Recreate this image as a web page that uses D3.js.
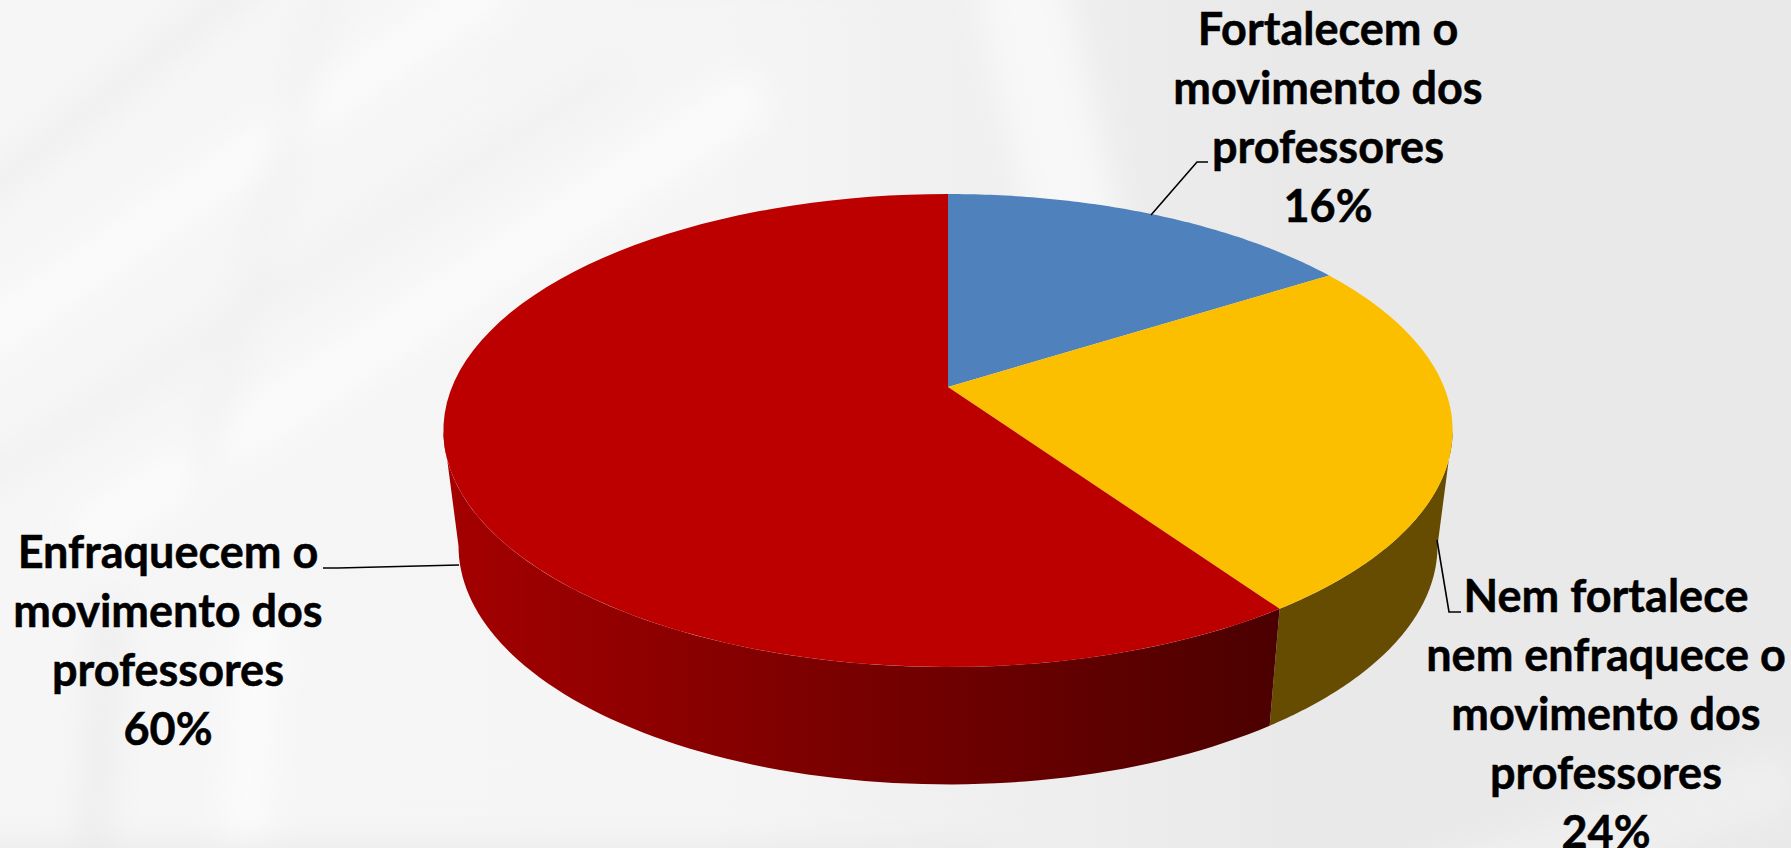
<!DOCTYPE html>
<html>
<head>
<meta charset="utf-8">
<script src="https://cdn.jsdelivr.net/npm/d3@7"></script>
<style>
  html, body { margin: 0; padding: 0; background: #f2f2f2; overflow: hidden; }
  text { font-family: Lato, "Open Sans", sans-serif; font-weight: 700; fill: #000; stroke: #000; stroke-width: 0.5px; }
</style>
</head>
<body>
<svg id="chart" width="1791" height="848"></svg>
<script>
// values, in clockwise order from 12 o'clock
const categories = [
    ["Fortalecem o", "movimento dos", "professores"],
    ["Nem fortalece", "nem enfraquece o", "movimento dos", "professores"],
    ["Enfraquecem o", "movimento dos", "professores"]
];
const shares = [16, 24.4, 59.6];
const percentLabels = ["16%", "24%", "60%"];
const topColors = ["#4f81bd", "#fcbf00", "#bc0000"];
const sideColors = ["#2f4d71", "#654c00", "url(#redSide)"];

const width = 1791, height = 848;
const svg = d3.select("#chart");
const defs = svg.append("defs");

// perspective of the tilted disc
const cx = 948, cy = 387;
const a = 496, b = 228.5, persp = 0.184;
const midY = 430.5, depth = 115.5, shrinkX = 0.97, stretchY = 1.008;

// the side wall is only seen between the two widest points of the disc
const sideFrom = Math.PI - Math.asin(Math.sqrt(1 - persp * persp));
const sideTo = 2 * Math.PI - sideFrom;

function project(angle, bottom) {
    const u = Math.sin(angle), v = Math.cos(angle);
    const d = 1 + persp * v;
    const x = cx + a * u / d;
    const y = cy - b * v / d;
    if (!bottom) return [x, y];
    return [cx + (x - cx) * shrinkX, midY + depth + (y - midY) * stretchY];
}

function arcPoints(start, end, bottom) {
    return d3.range(0, 81).map(i => project(start + (end - start) * i / 80, bottom));
}

// background, washed out photo
const bg = defs.append("linearGradient").attr("id", "bg");
bg.append("stop").attr("offset", "0%").attr("stop-color", "#f6f6f6");
bg.append("stop").attr("offset", "40%").attr("stop-color", "#f5f5f5");
bg.append("stop").attr("offset", "72%").attr("stop-color", "#e9e9e9");
bg.append("stop").attr("offset", "100%").attr("stop-color", "#e9e9e9");
defs.append("filter").attr("id", "soft")
    .attr("filterUnits", "userSpaceOnUse")
    .attr("x", -100).attr("y", -100).attr("width", 2000).attr("height", 1050)
    .append("feGaussianBlur").attr("stdDeviation", 16);

svg.append("rect").attr("width", width).attr("height", height).attr("fill", "url(#bg)");

const streaks = [
    ["M-60 230 L300 -60", "#eeeeee", 24],
    ["M-60 370 L500 -20", "#fbfbfb", 44],
    ["M-60 510 L620 70", "#efefef", 20],
    ["M80 540 L760 90", "#fbfbfb", 50],
    ["M340 -60 L200 480", "#f0f0f0", 18],
    ["M90 900 L110 600", "#ececec", 26],
    ["M240 900 L260 620", "#fbfbfb", 46],
    ["M-60 880 L1000 880", "#e9e9e9", 70],
    ["M1010 -60 L1090 300", "#f8f8f8", 90],
    ["M1400 900 L1791 780", "#efefef", 60],
    ["M620 -40 L1000 -40", "#efefef", 50]
];
svg.append("g").attr("filter", "url(#soft)")
    .selectAll("path").data(streaks).join("path")
    .attr("d", d => d[0])
    .attr("fill", "none")
    .attr("stroke", d => d[1])
    .attr("stroke-width", d => d[2]);

// slices
const slices = d3.pie().sort(null).value(d => d)(shares);

const redSide = defs.append("linearGradient").attr("id", "redSide")
    .attr("gradientUnits", "userSpaceOnUse")
    .attr("x1", 455).attr("x2", 1280).attr("y1", 0).attr("y2", 0);
redSide.append("stop").attr("offset", "0%").attr("stop-color", "#a30000");
redSide.append("stop").attr("offset", "100%").attr("stop-color", "#4b0000");

const line = d3.line();

// side walls, clipped to the visible part of each slice
const walls = slices.map((d, i) => ({
    start: Math.max(d.startAngle, sideFrom),
    end: Math.min(d.endAngle, sideTo),
    fill: sideColors[i]
})).filter(d => d.end > d.start);

svg.append("g").selectAll("path").data(walls).join("path")
    .attr("d", d => line(arcPoints(d.start, d.end, false)
        .concat(arcPoints(d.end, d.start, true))) + "Z")
    .attr("fill", d => d.fill);

svg.append("g").selectAll("path").data(slices).join("path")
    .attr("d", d => line([[cx, cy]].concat(arcPoints(d.startAngle, d.endAngle, false))) + "Z")
    .attr("fill", (d, i) => topColors[i]);

// leader lines
const leaders = [
    [[1151, 215], [1197, 162], [1208, 162]],
    [[1437, 540], [1449, 612], [1461, 612]],
    [[459, 565], [338, 568], [323, 568]]
];
svg.append("g").selectAll("path").data(leaders).join("path")
    .attr("d", d => line(d))
    .attr("fill", "none")
    .attr("stroke", "#000")
    .attr("stroke-width", 1.6);

// labels
const labelPos = [[1328, 45], [1606, 612], [168, 568]];
const lineGap = 59, fontSize = 45;

const labels = svg.append("g").selectAll("text").data(categories).join("text")
    .attr("text-anchor", "middle")
    .attr("font-size", fontSize)
    .attr("x", (d, i) => labelPos[i][0])
    .attr("y", (d, i) => labelPos[i][1]);

labels.selectAll("tspan").data((d, i) => d.concat(percentLabels[i])).join("tspan")
    .attr("x", function() { return this.parentNode.getAttribute("x"); })
    .attr("dy", (d, i) => i === 0 ? 0 : lineGap)
    .text(d => d);
</script>
</body>
</html>
